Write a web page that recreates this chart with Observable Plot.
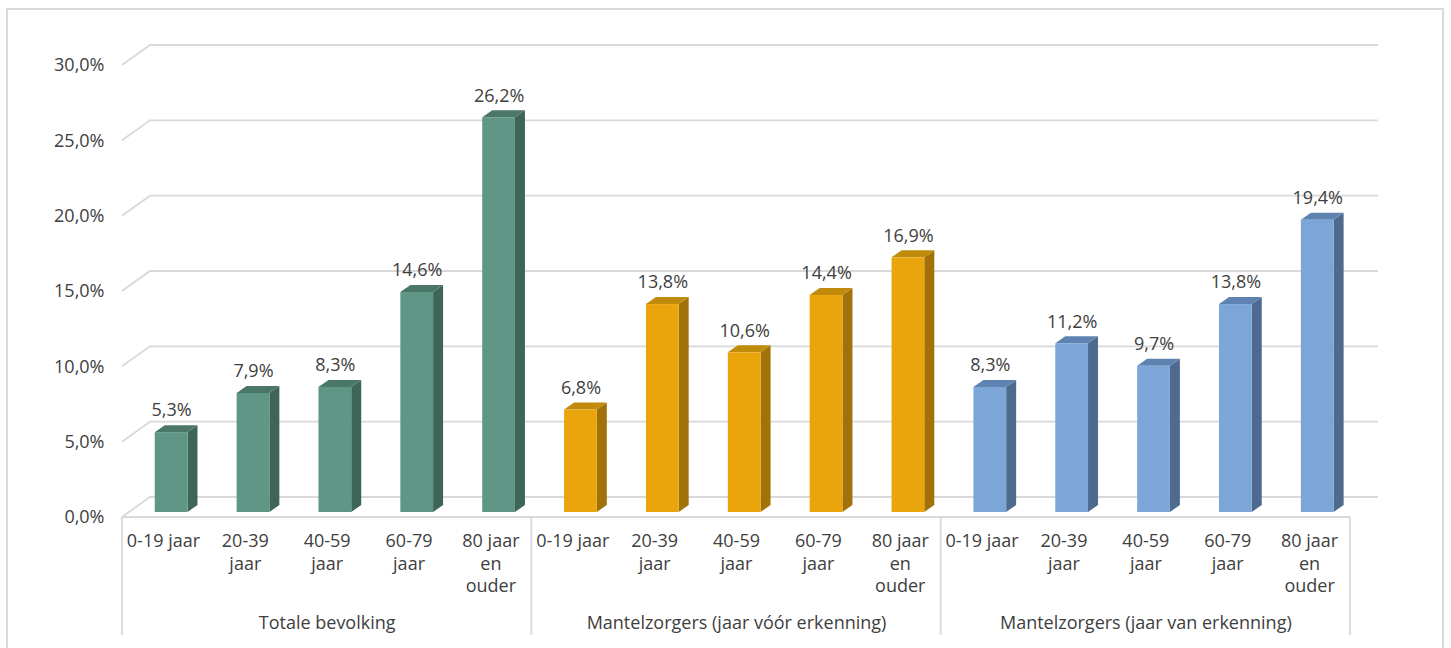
<!DOCTYPE html>
<html><head><meta charset="utf-8">
<script src="https://cdn.jsdelivr.net/npm/d3@7"></script>
<script src="https://cdn.jsdelivr.net/npm/@observablehq/plot@0.6"></script>
<style>
body{margin:0;background:#fff;overflow:hidden;}
#wrap{position:relative;width:1451px;height:648px;}
#frame{position:absolute;left:6px;top:8px;width:1438px;height:700px;border:2px solid #dadada;box-sizing:border-box;pointer-events:none;}
#wrap svg{display:block;}
</style></head><body><div id="wrap"><div id="frame"></div></div>
<script>
// ---- data ----
const groups = ["Totale bevolking", "Mantelzorgers (jaar vóór erkenning)", "Mantelzorgers (jaar van erkenning)"];
const ageGroups = ["0-19 jaar", "20-39 jaar", "40-59 jaar", "60-79 jaar", "80 jaar en ouder"];
const ageLabels = ["0-19 jaar", "20-39\njaar", "40-59\njaar", "60-79\njaar", "80 jaar\nen\nouder"];
const totaleBevolking = [5.3, 7.9, 8.3, 14.6, 26.2];
const voorErkenning = [6.8, 13.8, 10.6, 14.4, 16.9];
const vanErkenning = [8.3, 11.2, 9.7, 13.8, 19.4];
const yTicks = [0, 5, 10, 15, 20, 25, 30];

// ---- styling ----
const faceColors = ["#5f9686", "#eba50c", "#7ba6d7"];
const sideColors = ["#3f6558", "#a07208", "#4e6b8f"];
const topColors  = ["#4b7768", "#c08a0a", "#5e83b0"];
const W = 1451, H = 648, ML = 122, MR = 101, MT = 65, MB = 131;
const BW = (W - ML - MR) / 15;
const WALL_DX = 28, WALL_DY = 20;     // depth of walls/floor
const BAR_DX = 10, BAR_DY = 7;        // depth of bars
const BAR_OFF = 5;                    // bars sit slightly behind front edge
const TXT = "#404040";
const FONT = "'Open Sans', 'Noto Sans', sans-serif";
const FS = 18;

const seriesValues = [totaleBevolking, voorErkenning, vanErkenning];
const keyOf = (gi, ai) => groups[gi] + "|" + ageGroups[ai];
const rows = [];
groups.forEach((g, gi) => ageGroups.forEach((a, ai) => rows.push({
  key: keyOf(gi, ai), group: g, gi, ai, value: seriesValues[gi][ai]
})));
const keys = rows.map(d => d.key);
const fmt = v => v.toFixed(1).replace(".", ",") + "%";

function bandwidth(x) {
  return x.bandwidth ? x.bandwidth() : BW;
}

// back wall + side wall gridlines
function gridMark(index, scales, values, dims) {
  const {y} = scales;
  const x0 = dims.marginLeft, x1 = dims.width - dims.marginRight;
  const g = d3.create("svg:g").attr("fill", "none").attr("stroke", "#d9d9d9").attr("stroke-width", 1.8);
  for (const t of yTicks) {
    const yy = y(t);
    g.append("path").attr("d", `M${x0},${yy}L${x0 + WALL_DX},${yy - WALL_DY}L${x1 + WALL_DX},${yy - WALL_DY}`);
  }
  return g.node();
}

// category axis line + group separators
function catAxisMark(index, scales, values, dims) {
  const {x} = scales;
  const bw = bandwidth(x);
  const yb = dims.height - dims.marginBottom;
  const x0 = dims.marginLeft, x1 = dims.width - dims.marginRight;
  const g = d3.create("svg:g").attr("fill", "none").attr("stroke", "#d9d9d9").attr("stroke-width", 1.8);
  g.append("path").attr("d", `M${x0},${yb}H${x1}`);
  const seps = groups.map((gr, gi) => x(keyOf(gi, 0)));
  seps.push(x(keyOf(groups.length - 1, ageGroups.length - 1)) + bw);
  for (const sx of seps) g.append("path").attr("d", `M${sx},${yb}V${yb + 118}`);
  return g.node();
}

// side + top faces of the 3D bars
function barDepthMark(index, scales, values, dims) {
  const {x, y} = scales;
  const bw = bandwidth(x);
  const g = d3.create("svg:g").attr("stroke", "none");
  for (const d of rows) {
    const xl = x(d.key) + bw * 0.4, xr = xl + bw * 0.4;
    const yb = y(0) - BAR_OFF, yt = y(d.value) - BAR_OFF;
    g.append("path").attr("fill", sideColors[d.gi])
      .attr("d", `M${xr},${yb}L${xr + BAR_DX},${yb - BAR_DY}L${xr + BAR_DX},${yt - BAR_DY}L${xr},${yt}Z`);
    g.append("path").attr("fill", topColors[d.gi])
      .attr("d", `M${xl},${yt}L${xl + BAR_DX},${yt - BAR_DY}L${xr + BAR_DX},${yt - BAR_DY}L${xr},${yt}Z`);
  }
  return g.node();
}

const chart = Plot.plot({
  width: W, height: H,
  marginLeft: ML, marginRight: MR, marginTop: MT, marginBottom: MB,
  style: {fontFamily: FONT, fontSize: FS + "px", color: TXT, background: "transparent"},
  x: {type: "band", domain: keys, padding: 0, round: false, axis: null},
  y: {domain: [0, 30], axis: null},
  color: {type: "identity"},
  marks: [
    gridMark,
    catAxisMark,
    barDepthMark,
    Plot.barY(rows, {
      x: "key", y: "value", fill: d => faceColors[d.gi],
      insetLeft: BW * 0.4, insetRight: BW * 0.2, dy: -BAR_OFF
    }),
    Plot.text(rows, {
      x: "key", y: "value", text: d => fmt(d.value),
      dx: BW * 0.1, dy: -27, lineAnchor: "middle",
      fill: TXT, fontSize: FS, fontFamily: FONT
    }),
    Plot.text(yTicks, {
      y: d => d, text: d => fmt(d), frameAnchor: "left", textAnchor: "end",
      dx: -18, lineAnchor: "middle", fill: TXT, fontSize: FS, fontFamily: FONT
    }),
    Plot.text(rows, {
      x: "key", text: d => ageLabels[d.ai], frameAnchor: "bottom",
      lineAnchor: "top", dy: 14, lineHeight: 1.25, fill: TXT, fontSize: FS, fontFamily: FONT
    }),
    Plot.text(groups, {
      x: (g, gi) => keyOf(gi, 2), text: g => g, frameAnchor: "bottom",
      lineAnchor: "middle", dy: 106, fill: TXT, fontSize: FS, fontFamily: FONT
    })
  ]
});
document.getElementById("wrap").prepend(chart);
</script>
</body></html>
